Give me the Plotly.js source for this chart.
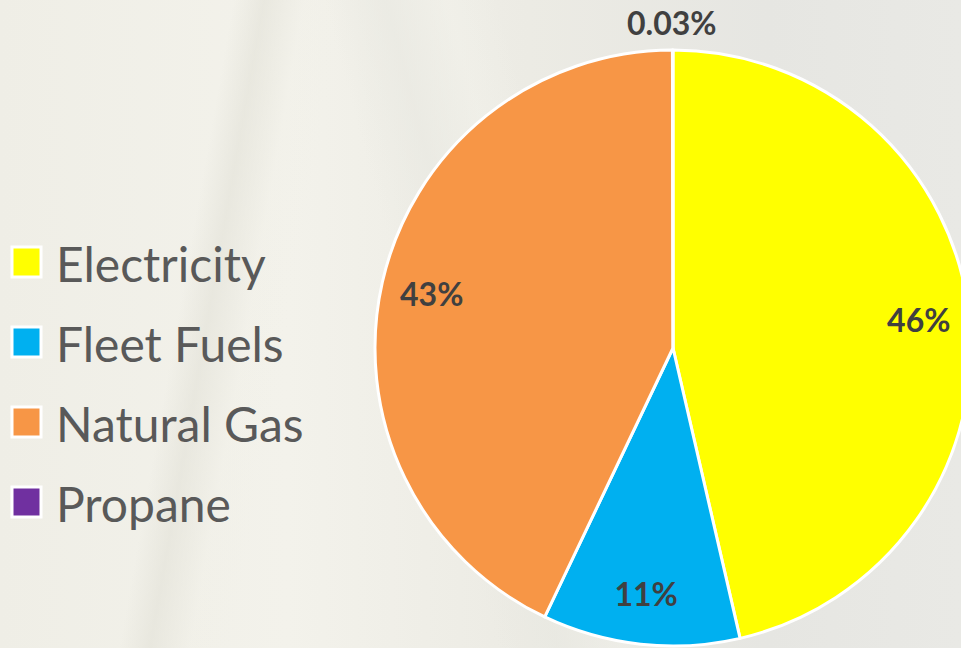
<!DOCTYPE html>
<html>
<head>
<meta charset="utf-8">
<script src="https://cdn.plot.ly/plotly-3.0.1.min.js"></script>
<style>
html,body{margin:0;padding:0;width:961px;height:648px;overflow:hidden;}
body{
  background:
    linear-gradient(100deg, rgba(255,255,255,0) 0px, rgba(255,255,255,0) 230px, rgba(225,224,214,0.55) 260px, rgba(240,239,230,0.2) 300px, rgba(255,255,255,0) 340px),
    linear-gradient(75deg, rgba(255,255,255,0) 0px, rgba(255,255,255,0) 480px, rgba(232,232,225,0.6) 540px, rgba(245,245,238,0.3) 600px, rgba(255,255,255,0) 650px),
    linear-gradient(90deg, #efeee6 0%, #f3f2eb 30%, #ecebe4 55%, #e6e6e2 80%, #e9e9e5 100%);
}
#chart{width:1000px;height:648px;}
</style>
</head>
<body>
<div id="chart"></div>
<script>
// Data
const labels = ["Electricity", "Fleet Fuels", "Natural Gas", "Propane"];
const values = [46.4, 10.7, 42.9, 0.03];
const colors = ["#FFFF00", "#00B0F0", "#F79646", "#7030A0"];

const W = 1000, H = 648;
const px = v => v / W;
const py = v => 1 - v / H;

const domain = {x: [375 / W, 971 / W], y: [2 / H, 598 / H]};
const labelFont = {family: "Lato, 'Open Sans', sans-serif", size: 32, color: "#404040", weight: "bold"};

const mainPie = {
  type: "pie",
  labels: labels,
  values: values,
  sort: false,
  direction: "clockwise",
  rotation: 0,
  domain: domain,
  marker: {colors: colors, line: {color: "#FFFFFF", width: 3}},
  textposition: "none",
  hoverinfo: "label+percent",
  showlegend: false
};

// transparent ring that carries the inside percentage labels near the rim
const labelRing = {
  type: "pie",
  labels: labels,
  values: values,
  sort: false,
  direction: "clockwise",
  rotation: 0,
  hole: 0.66,
  domain: domain,
  marker: {colors: labels.map(() => "rgba(0,0,0,0)"), line: {width: 0}},
  textposition: ["inside", "inside", "inside", "none"],
  insidetextorientation: "horizontal",
  texttemplate: "%{percent:.0%}",
  textfont: labelFont,
  insidetextfont: labelFont,
  hoverinfo: "skip",
  showlegend: false
};

// label of the tiny slice, shown above the pie top
const total = values.reduce((a, b) => a + b, 0);
const smallLabel = (values[3] / total * 100).toFixed(2) + "%";

// Custom legend (annotations + swatches)
const legendY = [262, 342, 422, 502];
const annotations = labels.map((l, i) => ({
  xref: "paper", yref: "paper",
  x: px(54), y: py(legendY[i] + 1),
  xanchor: "left", yanchor: "middle",
  text: l, showarrow: false,
  font: {family: "Lato, 'Open Sans', sans-serif", size: 48, color: "#595959"}
}));
annotations.push({
  xref: "paper", yref: "paper",
  x: px(672), y: py(22),
  xanchor: "center", yanchor: "middle",
  text: smallLabel, showarrow: false,
  font: labelFont
});
const shapes = labels.map((l, i) => ({
  type: "rect", xref: "paper", yref: "paper",
  x0: px(12), x1: px(41),
  y0: py(legendY[i] + 15), y1: py(legendY[i] - 15),
  fillcolor: colors[i],
  line: {color: "#FFFFFF", width: 3}
}));

const layout = {
  width: W, height: H,
  margin: {l: 0, r: 0, t: 0, b: 0},
  paper_bgcolor: "rgba(0,0,0,0)",
  plot_bgcolor: "rgba(0,0,0,0)",
  showlegend: false,
  annotations: annotations,
  shapes: shapes
};

Plotly.newPlot("chart", [mainPie, labelRing], layout, {displayModeBar: false, staticPlot: true});
</script>
</body>
</html>
